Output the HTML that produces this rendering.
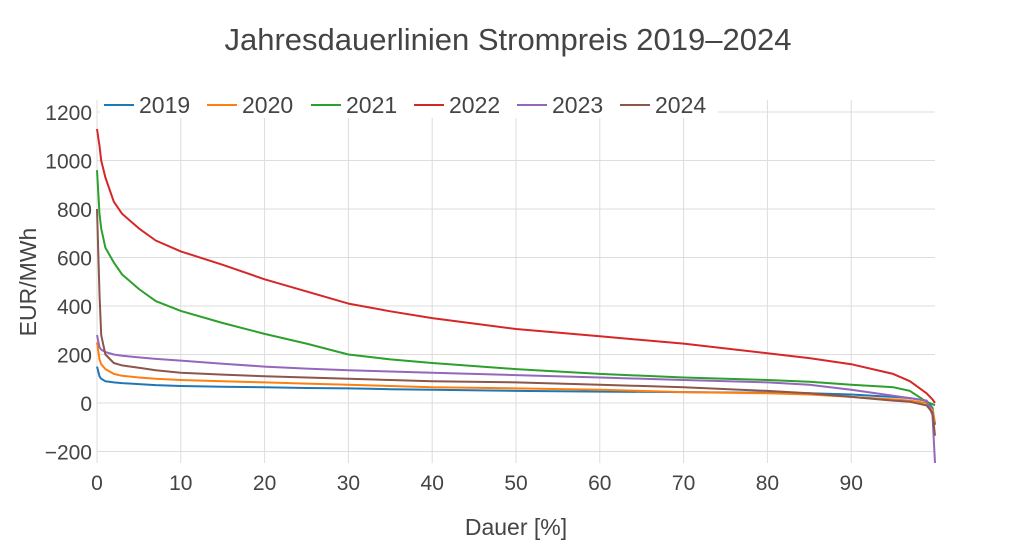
<!DOCTYPE html>
<html><head><meta charset="utf-8"><style>
body{margin:0;background:#fff;}
svg text{font-family:"Liberation Sans",sans-serif;fill:#444;}
</style></head><body>
<svg width="1016" height="544">
<text x="508" y="50" text-anchor="middle" font-size="31">Jahresdauerlinien Strompreis 2019–2024</text>
<g id="grid"></g>
<g id="series"></g>
<g id="legend"></g>
<text x="516" y="535" text-anchor="middle" font-size="23">Dauer [%]</text>
<text transform="translate(36,282) rotate(-90)" text-anchor="middle" font-size="23">EUR/MWh</text>
</svg>
<script>
const years=['2019','2020','2021','2022','2023','2024'];
const colors=['#1f77b4','#ff7f0e','#2ca02c','#d62728','#9467bd','#8c564b'];
const xTicks=[0,10,20,30,40,50,60,70,80,90];
const yTicks=[-200,0,200,400,600,800,1000,1200];
const pct=[0,0.3,0.5,1,2,3,5,7,10,15,20,25,30,35,40,50,60,70,80,85,90,95,97,99,99.7,100];
const v2019=[150,110,100,90,85,82,78,74,70,67,65,62,60,57,55,50,47,45,42,40,35,25,20,10,-20,-90];
const v2020=[250,180,160,140,120,112,105,100,95,90,85,80,75,70,65,60,55,45,40,35,25,15,10,0,-30,-80];
const v2021=[960,780,720,640,580,530,470,420,380,330,285,245,200,180,165,140,120,105,95,88,75,65,50,5,-5,-10];
const v2022=[1130,1060,1000,930,830,780,720,670,625,570,510,460,410,378,350,305,275,245,205,185,160,120,90,40,15,0];
const v2023=[280,230,220,210,200,195,188,182,175,162,150,142,135,130,125,115,105,95,85,75,55,30,20,10,-50,-250];
const v2024=[800,450,280,200,165,155,145,135,125,117,110,105,100,95,90,85,75,65,50,40,25,10,5,-10,-40,-135];
const series=[v2019,v2020,v2021,v2022,v2023,v2024];
const X0=97,X1=935,Yt=100,Yb=463;
const xs=p=>X0+(X1-X0)*p/100;
const ys=v=>403-v*0.2425;
const NS='http://www.w3.org/2000/svg';
function mk(t,a){const e=document.createElementNS(NS,t);for(const k in a)e.setAttribute(k,a[k]);return e;}
const grid=document.getElementById('grid');
xTicks.forEach(t=>{
 const l=mk('line',{x1:xs(t),x2:xs(t),y1:Yt,y2:Yb,stroke:'#ddd','stroke-width':1});
 
 
 grid.appendChild(l);
 const tx=mk('text',{x:xs(t),y:Yb+27,'text-anchor':'middle','font-size':21});
 tx.textContent=t;
 
 
 grid.appendChild(tx);
});
yTicks.forEach(t=>{
 const l=mk('line',{x1:X0,x2:X1,y1:ys(t),y2:ys(t),stroke:'#ddd','stroke-width':1});
 
 
 grid.appendChild(l);
 const tx=mk('text',{x:X0-5,y:ys(t)+8,'text-anchor':'end','font-size':21});
 tx.textContent=t<0?'−'+(-t):t;
 
 
 grid.appendChild(tx);
});
const sg=document.getElementById('series');
series.forEach((s,i)=>{
 const d=s.map((v,j)=>(j?'L':'M')+xs(pct[j]).toFixed(1)+','+Math.min(Yb,ys(v)).toFixed(1)).join('');
 const p=mk('path',{d:d,fill:'none',stroke:colors[i],'stroke-width':2,'stroke-linejoin':'round'});
 
 
 sg.appendChild(p);
});
const lg=document.getElementById('legend');
const lx=[104,207,311,414,517,620];
const bg=mk('rect',{x:100,y:92,width:618,height:26,fill:'#fff'});


lg.appendChild(bg);
years.forEach((y,i)=>{
 const g=mk('g',{});
 
 
 g.appendChild(mk('line',{x1:lx[i],x2:lx[i]+30,y1:105,y2:105,stroke:colors[i],'stroke-width':2}));
 const t=mk('text',{x:lx[i]+35,y:113,'font-size':23});
 t.textContent=y;
 g.appendChild(t);
 lg.appendChild(g);
});
</script>
</body></html>
